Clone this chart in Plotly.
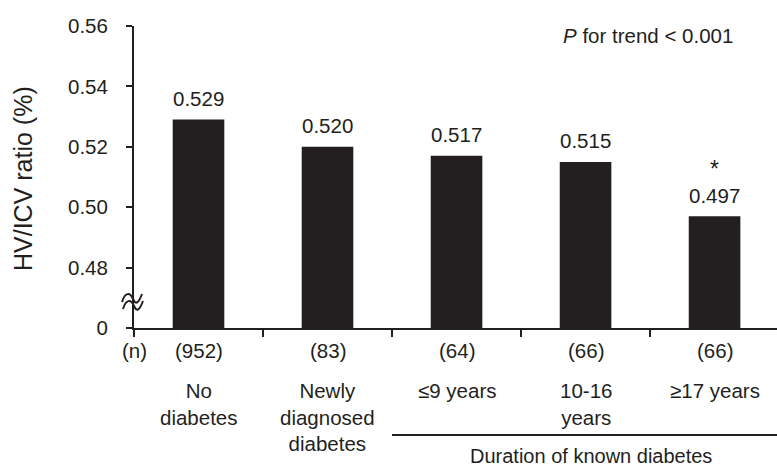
import plotly.graph_objects as go

# Hippocampal volume / intracranial volume ratio by diabetes status
groups = ["No<br>diabetes", "Newly<br>diagnosed<br>diabetes", "≤9 years", "10-16<br>years", "≥17 years"]
ratios = [0.529, 0.520, 0.517, 0.515, 0.497]
n_counts = ["(952)", "(83)", "(64)", "(66)", "(66)"]
significant = [False, False, False, False, True]
y_ticks = [0.46, 0.48, 0.50, 0.52, 0.54, 0.56]
y_tick_labels = ["0", "0.48", "0.50", "0.52", "0.54", "0.56"]

INK = "#231f20"
FONT = "Liberation Sans, Arial, sans-serif"
x_pos = list(range(len(groups)))

# plot area geometry in pixels
W, H = 777, 467
L, R, T, B = 134, 0, 26, 139
PW, PH = W - L - R, H - T - B

fig = go.Figure()
fig.add_trace(go.Bar(
    x=x_pos, y=ratios, width=0.4,
    marker=dict(color=INK, line=dict(width=0)),
    hoverinfo="skip",
))

annotations = []
# value labels above bars, asterisk for significant difference
for x, v, sig in zip(x_pos, ratios, significant):
    annotations.append(dict(x=x, y=v, xref="x", yref="y", text=f"{v:.3f}",
                            showarrow=False, yanchor="middle", yshift=21,
                            font=dict(size=20.5, color=INK, family=FONT)))
    if sig:
        annotations.append(dict(x=x, y=v, xref="x", yref="y", text="*",
                                showarrow=False, yanchor="bottom", yshift=32,
                                font=dict(size=23, color=INK, family=FONT)))

# group sizes and category names below the axis
annotations.append(dict(x=-0.5, y=0, xref="x", yref="paper", text="(n)",
                        showarrow=False, yanchor="middle", yshift=-22,
                        font=dict(size=20.5, color=INK, family=FONT)))
for x, n, g in zip(x_pos, n_counts, groups):
    annotations.append(dict(x=x, y=0, xref="x", yref="paper", text=n,
                            showarrow=False, yanchor="middle", yshift=-22,
                            font=dict(size=20.5, color=INK, family=FONT)))
    annotations.append(dict(x=x, y=0, xref="x", yref="paper", text=g,
                            showarrow=False, yanchor="top", yshift=-49,
                            align="center",
                            font=dict(size=20.5, color=INK, family=FONT)))

annotations.append(dict(x=3.04, y=0, xref="x", yref="paper",
                        text="Duration of known diabetes",
                        showarrow=False, yanchor="middle", yshift=-128,
                        font=dict(size=20, color=INK, family=FONT)))

annotations.append(dict(x=(648 - 199) / 129, y=1, xref="x", yref="paper",
                        text="<i>P</i> for trend < 0.001",
                        showarrow=False, yanchor="middle", yshift=-9,
                        font=dict(size=20.5, color=INK, family=FONT)))

# y-axis title
annotations.append(dict(x=0, y=0.5, xref="paper", yref="paper",
                        text="HV/ICV ratio (%)", textangle=-90,
                        showarrow=False, xanchor="center", yanchor="middle",
                        xshift=-111, yshift=-2,
                        font=dict(size=25, color=INK, family=FONT)))

shapes = [
    # bracket line under the known-diabetes groups
    dict(type="line", xref="x", yref="paper", x0=1.5, x1=4.6,
         y0=-0.354, y1=-0.354, line=dict(color=INK, width=2)),
]

# axis break marks, offsets in pixels around the break point on the y axis
def px_to_paper(dx, dy, cy=303):
    return dx / PW, ((H - B) - cy + dy) / PH

for ox, oy in ((0, 3), (1, -4)):
    pts = [(-12, -2), (-9, 8), (-4, 8), (-1, 1), (5, -2), (8, 6)]
    p = [px_to_paper(px + ox, py + oy) for px, py in pts]
    path = (f"M {p[0][0]},{p[0][1]} C {p[1][0]},{p[1][1]} {p[2][0]},{p[2][1]} "
            f"{p[3][0]},{p[3][1]} S {p[4][0]},{p[4][1]} {p[5][0]},{p[5][1]}")
    shapes.append(dict(type="path", xref="paper", yref="paper", path=path,
                       line=dict(color=INK, width=2)))

fig.update_layout(
    width=W, height=H,
    margin=dict(l=L, r=R, t=T, b=B),
    paper_bgcolor="white", plot_bgcolor="white",
    showlegend=False,
    font=dict(family=FONT, size=20, color=INK),
    xaxis=dict(range=[-0.5, 4.484], showgrid=False, zeroline=False,
               showline=True, linecolor=INK, linewidth=2,
               tickmode="array", tickvals=[-0.5, 0.5, 1.5, 2.5, 3.5],
               ticks="outside", ticklen=7, tickwidth=2, tickcolor=INK,
               showticklabels=False, fixedrange=True),
    yaxis=dict(range=[0.46, 0.56], showgrid=False, zeroline=False,
               showline=True, linecolor=INK, linewidth=2,
               tickmode="array", tickvals=y_ticks, ticktext=y_tick_labels,
               ticks="outside", ticklen=6, tickwidth=2, tickcolor=INK,
               ticklabelstandoff=14,
               tickfont=dict(size=20.5, color=INK, family=FONT),
               automargin=False, fixedrange=True),
    annotations=annotations,
    shapes=shapes,
)

fig.write_html("out.html")
